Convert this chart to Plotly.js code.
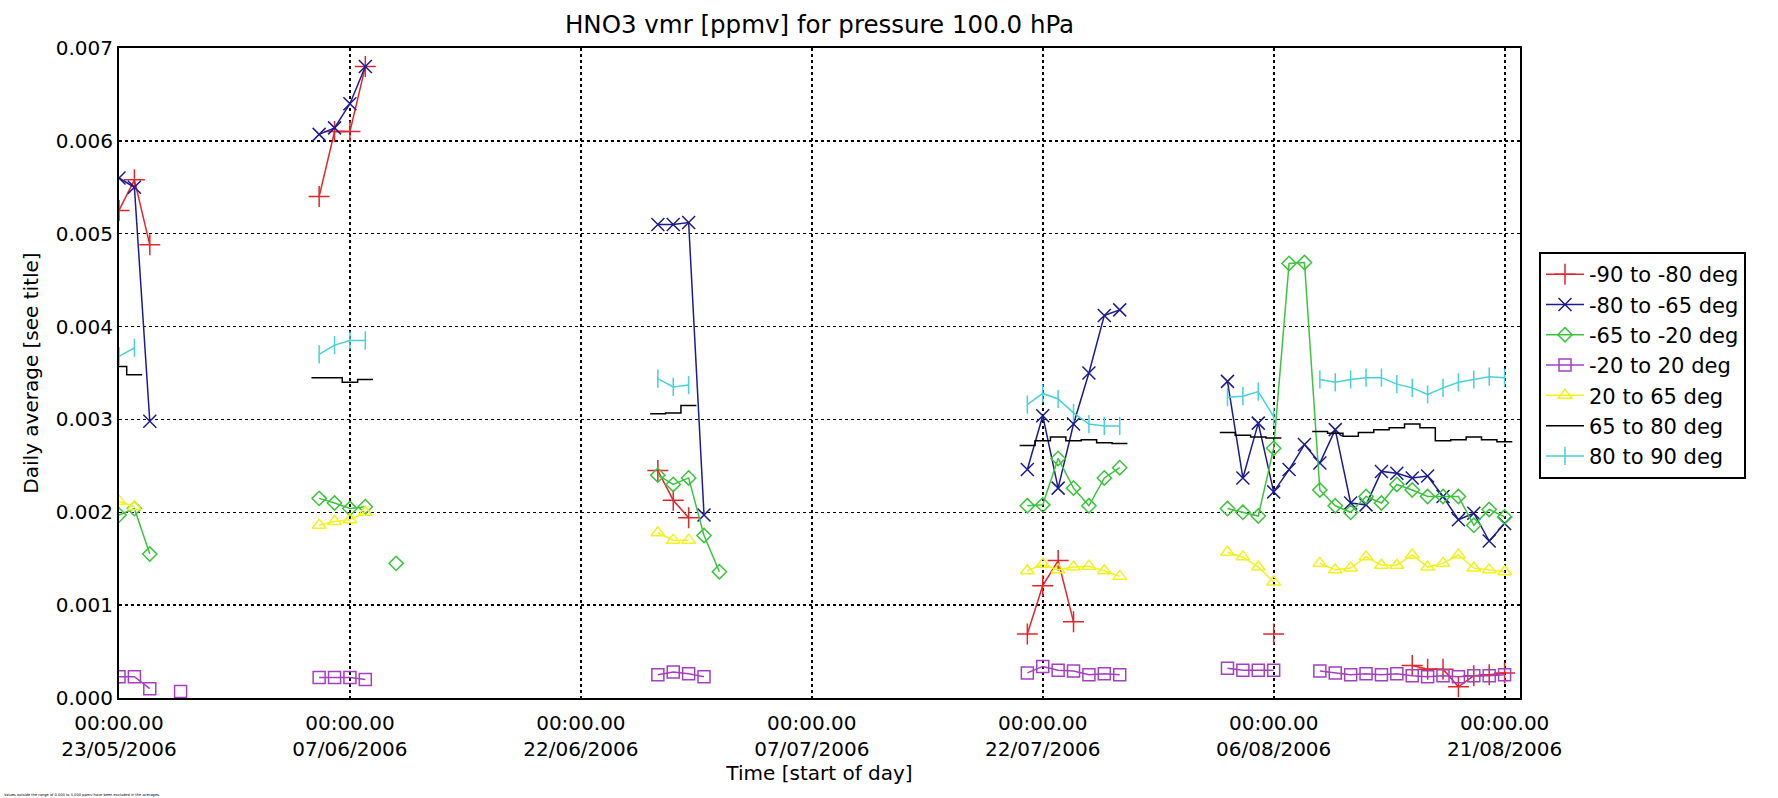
<!DOCTYPE html>
<html>
<head>
<meta charset="utf-8">
<script src="https://cdn.plot.ly/plotly-3.0.1.min.js"></script>
<style>
html,body{margin:0;padding:0;background:#ffffff;}
#chart{width:1778px;height:798px;}
</style>
</head>
<body>
<div id="chart"></div>
<script>
// ---------- texts ----------
const chartTitle = 'HNO3 vmr [ppmv] for pressure 100.0 hPa';
const xAxisTitle = 'Time [start of day]';
const yAxisTitle = 'Daily average [see title]';
const footNote = 'Values outside the range of 0.000 to 5.000 ppmv have been excluded in the averages.';

// ---------- axis ticks ----------
const tickDates = ['2006-05-23','2006-06-07','2006-06-22','2006-07-07','2006-07-22','2006-08-06','2006-08-21'];
const tickLabels = ['00:00.00<br>23/05/2006','00:00.00<br>07/06/2006','00:00.00<br>22/06/2006',
                    '00:00.00<br>07/07/2006','00:00.00<br>22/07/2006','00:00.00<br>06/08/2006',
                    '00:00.00<br>21/08/2006'];
const xRange = ['2006-05-23','2006-08-22'];
const yRange = [0, 0.007];

// ---------- series names ----------
const seriesNames = ['-90 to -80 deg','-80 to -65 deg','-65 to -20 deg','-20 to 20 deg',
                     '20 to 65 deg','65 to 80 deg','80 to 90 deg'];

// ---------- -90 to -80 deg ----------
const s1Dates = ['2006-05-23','2006-05-24','2006-05-25',
  '2006-06-05','2006-06-06','2006-06-07','2006-06-08',
  '2006-06-27','2006-06-28','2006-06-29',
  '2006-07-21','2006-07-22','2006-07-23','2006-07-24',
  '2006-08-06',
  '2006-08-15','2006-08-16','2006-08-17','2006-08-18','2006-08-19','2006-08-20','2006-08-21'];
const s1Values = [0.00525,0.00558,0.00488,
  0.0054,0.0061,0.0061,0.0068,
  0.00245,0.00213,0.00194,
  0.00069,0.00121,0.00148,0.00082,
  0.00069,
  0.00035,0.00031,0.00031,0.00012,0.00024,0.00025,0.00027];

// ---------- -80 to -65 deg ----------
const s2Dates = ['2006-05-23','2006-05-24','2006-05-25',
  '2006-06-05','2006-06-06','2006-06-07','2006-06-08',
  '2006-06-27','2006-06-28','2006-06-29','2006-06-30',
  '2006-07-21','2006-07-22','2006-07-23','2006-07-24','2006-07-25','2006-07-26','2006-07-27',
  '2006-08-03','2006-08-04','2006-08-05','2006-08-06','2006-08-07','2006-08-08','2006-08-09',
  '2006-08-10','2006-08-11','2006-08-12','2006-08-13','2006-08-14','2006-08-15','2006-08-16',
  '2006-08-17','2006-08-18','2006-08-19','2006-08-20','2006-08-21'];
const s2Values = [0.0056,0.0055,0.00298,
  0.00607,0.00614,0.0064,0.0068,
  0.0051,0.0051,0.00512,0.00197,
  0.00246,0.00304,0.00226,0.00295,0.0035,0.00412,0.00418,
  0.00341,0.00237,0.00296,0.00222,0.00246,0.00273,0.00253,
  0.00289,0.0021,0.00208,0.00244,0.00242,0.00237,0.00239,
  0.00217,0.00192,0.00199,0.00169,0.00188];

// ---------- -65 to -20 deg ----------
const s3Dates = ['2006-05-23','2006-05-24','2006-05-25',
  '2006-06-05','2006-06-06','2006-06-07','2006-06-08','2006-06-10',
  '2006-06-27','2006-06-28','2006-06-29','2006-06-30','2006-07-01',
  '2006-07-21','2006-07-22','2006-07-23','2006-07-24','2006-07-25','2006-07-26','2006-07-27',
  '2006-08-03','2006-08-04','2006-08-05','2006-08-06','2006-08-07','2006-08-08','2006-08-09',
  '2006-08-10','2006-08-11','2006-08-12','2006-08-13','2006-08-14','2006-08-15','2006-08-16',
  '2006-08-17','2006-08-18','2006-08-19','2006-08-20','2006-08-21'];
const s3Values = [0.00197,0.00204,0.00155,
  0.00215,0.0021,0.00204,0.00206,0.00145,
  0.0024,0.0023,0.00237,0.00175,0.00136,
  0.00207,0.00208,0.00258,0.00226,0.00207,0.00237,0.00248,
  0.00204,0.002,0.00196,0.00269,0.00468,0.00469,0.00224,
  0.00207,0.002,0.00217,0.0021,0.0023,0.00224,0.00217,
  0.00217,0.00217,0.00186,0.00203,0.00195];

// ---------- -20 to 20 deg ----------
const s4Dates = ['2006-05-23','2006-05-24','2006-05-25','2006-05-27',
  '2006-06-05','2006-06-06','2006-06-07','2006-06-08',
  '2006-06-27','2006-06-28','2006-06-29','2006-06-30',
  '2006-07-21','2006-07-22','2006-07-23','2006-07-24','2006-07-25','2006-07-26','2006-07-27',
  '2006-08-03','2006-08-04','2006-08-05','2006-08-06',
  '2006-08-09','2006-08-10','2006-08-11','2006-08-12','2006-08-13','2006-08-14','2006-08-15',
  '2006-08-16','2006-08-17','2006-08-18','2006-08-19','2006-08-20','2006-08-21'];
const s4Values = [0.00023,0.00023,0.0001,0.00007,
  0.00022,0.00022,0.00022,0.0002,
  0.00025,0.00028,0.00026,0.00023,
  0.00027,0.00034,0.0003,0.00029,0.00025,0.00026,0.00025,
  0.00032,0.0003,0.0003,0.0003,
  0.00029,0.00027,0.00025,0.00026,0.00025,0.00026,0.00024,
  0.00023,0.00024,0.00023,0.00024,0.00024,0.00025];

// ---------- shared dates for the three northern bands ----------
const northDates = ['2006-05-23','2006-05-24',
  '2006-06-05','2006-06-06','2006-06-07','2006-06-08',
  '2006-06-27','2006-06-28','2006-06-29',
  '2006-07-21','2006-07-22','2006-07-23','2006-07-24','2006-07-25','2006-07-26','2006-07-27',
  '2006-08-03','2006-08-04','2006-08-05','2006-08-06',
  '2006-08-09','2006-08-10','2006-08-11','2006-08-12','2006-08-13','2006-08-14','2006-08-15',
  '2006-08-16','2006-08-17','2006-08-18','2006-08-19','2006-08-20','2006-08-21'];

// ---------- 20 to 65 deg ----------
const s5Values = [0.00212,0.00206,
  0.00186,0.0019,0.00192,0.002,
  0.00178,0.0017,0.0017,
  0.00137,0.00144,0.00138,0.00141,0.00142,0.00137,0.00131,
  0.00157,0.00152,0.00141,0.00125,
  0.00145,0.00138,0.0014,0.00152,0.00143,0.00143,0.00154,
  0.00141,0.00145,0.00154,0.0014,0.00138,0.00136];

// ---------- 65 to 80 deg ----------
const s6Values = [0.00357,0.00348,
  0.00345,0.00345,0.0034,0.00343,
  0.00306,0.00307,0.00315,
  0.00272,0.00277,0.00281,0.00277,0.00278,0.00275,0.00274,
  0.00286,0.00283,0.00281,0.0028,
  0.00287,0.00285,0.00282,0.00286,0.00289,0.00291,0.00295,
  0.00291,0.00277,0.00278,0.00281,0.00278,0.00276];

// ---------- 80 to 90 deg ----------
const s7Values = [0.00368,0.00377,
  0.0037,0.0038,0.00385,0.00385,
  0.00344,0.00335,0.00337,
  0.00316,0.00328,0.00322,0.00307,0.00295,0.00293,0.00293,
  0.00324,0.00325,0.0033,0.00303,
  0.00343,0.0034,0.00343,0.00345,0.00345,0.00338,0.00334,
  0.00327,0.00334,0.0034,0.00343,0.00346,0.00345];

// ---------- helpers ----------
const DAY = 86400000;
function fmt(t){ return new Date(t).toISOString().slice(0,19).replace('T',' '); }
// break the line where a day is missing
function withGaps(dates, values){
  const xs=[], ys=[];
  for(let i=0;i<dates.length;i++){
    if(i>0 && (Date.parse(dates[i])-Date.parse(dates[i-1]))/DAY > 1.5){ xs.push(null); ys.push(null); }
    xs.push(dates[i]); ys.push(values[i]);
  }
  return {x:xs, y:ys};
}
// histogram-style line: each daily value spans half a day on both sides
function histogramSteps(dates, values){
  const xs=[], ys=[];
  for(let i=0;i<dates.length;i++){
    const t = Date.parse(dates[i]);
    if(i>0 && (t-Date.parse(dates[i-1]))/DAY > 1.5){ xs.push(null); ys.push(null); }
    xs.push(fmt(t-DAY/2), fmt(t+DAY/2)); ys.push(values[i], values[i]);
  }
  return {x:xs, y:ys};
}

const colors = ['#e3262b','#1c1c8f','#3cc43c','#a43fc4','#f2f21c','#000000','#46d2d6'];
const symbols = ['cross-thin-open','x-thin-open','diamond-open','square-open','triangle-up-open',null,'line-ns-open'];
const sizes = [15,13,11,12,12,0,13];

function markerTrace(k, dates, values){
  const g = withGaps(dates, values);
  return {
    type:'scatter', mode:'lines+markers', name:seriesNames[k],
    x:g.x, y:g.y, connectgaps:false,
    line:{color:colors[k], width:1.5},
    marker:{symbol:symbols[k], size:sizes[k], color:colors[k], line:{color:colors[k], width:1.5}}
  };
}

const blackSteps = histogramSteps(northDates, s6Values);
const traces = [
  markerTrace(0, s1Dates, s1Values),
  markerTrace(1, s2Dates, s2Values),
  markerTrace(2, s3Dates, s3Values),
  markerTrace(3, s4Dates, s4Values),
  markerTrace(4, northDates, s5Values),
  {type:'scatter', mode:'lines', name:seriesNames[5], x:blackSteps.x, y:blackSteps.y,
   connectgaps:false, line:{color:colors[5], width:1.5}},
  markerTrace(6, northDates, s7Values)
];

const FONT = 'DejaVu Sans, Verdana, sans-serif';
const layout = {
  width:1778, height:798,
  margin:{l:119, r:258, t:48, b:100, pad:0},
  paper_bgcolor:'#ffffff', plot_bgcolor:'#ffffff',
  font:{family:FONT, size:20, color:'#000000'},
  showlegend:true,
  title:{text:chartTitle, font:{family:FONT, size:24.5, color:'#000'},
         x:0.5, xref:'paper', xanchor:'center', y:1-24/798, yref:'container', yanchor:'middle'},
  xaxis:{
    type:'date', range:xRange, autorange:false,
    tickmode:'array', tickvals:tickDates, ticktext:tickLabels,
    tickfont:{family:FONT, size:20, color:'#000'},
    showgrid:true, gridcolor:'#000000', griddash:'dot', gridwidth:2,
    showline:true, linecolor:'#000000', linewidth:2, mirror:true,
    ticks:'', ticklen:0, ticklabelstandoff:6, zeroline:false,
    title:{text:xAxisTitle, font:{family:FONT, size:20, color:'#000'}, standoff:4}
  },
  yaxis:{
    range:yRange, autorange:false, tick0:0, dtick:0.001, tickformat:'.3f',
    tickfont:{family:FONT, size:20, color:'#000'},
    showgrid:true, gridcolor:'#000000', griddash:'dot', gridwidth:1.5,
    showline:true, linecolor:'#000000', linewidth:2, mirror:true,
    ticks:'', ticklen:0, ticklabelstandoff:0, zeroline:false,
    title:{text:yAxisTitle, font:{family:FONT, size:20, color:'#000'}, standoff:12}
  },
  legend:{
    x:(1539-119)/1401, xanchor:'left', xref:'paper',
    y:(698-252)/650, yanchor:'top', yref:'paper',
    bgcolor:'#ffffff', bordercolor:'#000000', borderwidth:2,
    font:{family:FONT, size:21, color:'#000'},
    itemwidth:38, tracegroupgap:0, traceorder:'normal'
  },
  annotations:[{
    text:footNote, xref:'paper', yref:'paper',
    x:(2-119)/1401, xanchor:'left', y:(698-795)/650, yanchor:'middle',
    showarrow:false, font:{family:FONT, size:3.6, color:'#000'}
  }]
};

Plotly.newPlot('chart', traces, layout, {displayModeBar:false, staticPlot:true});
</script>
</body>
</html>
